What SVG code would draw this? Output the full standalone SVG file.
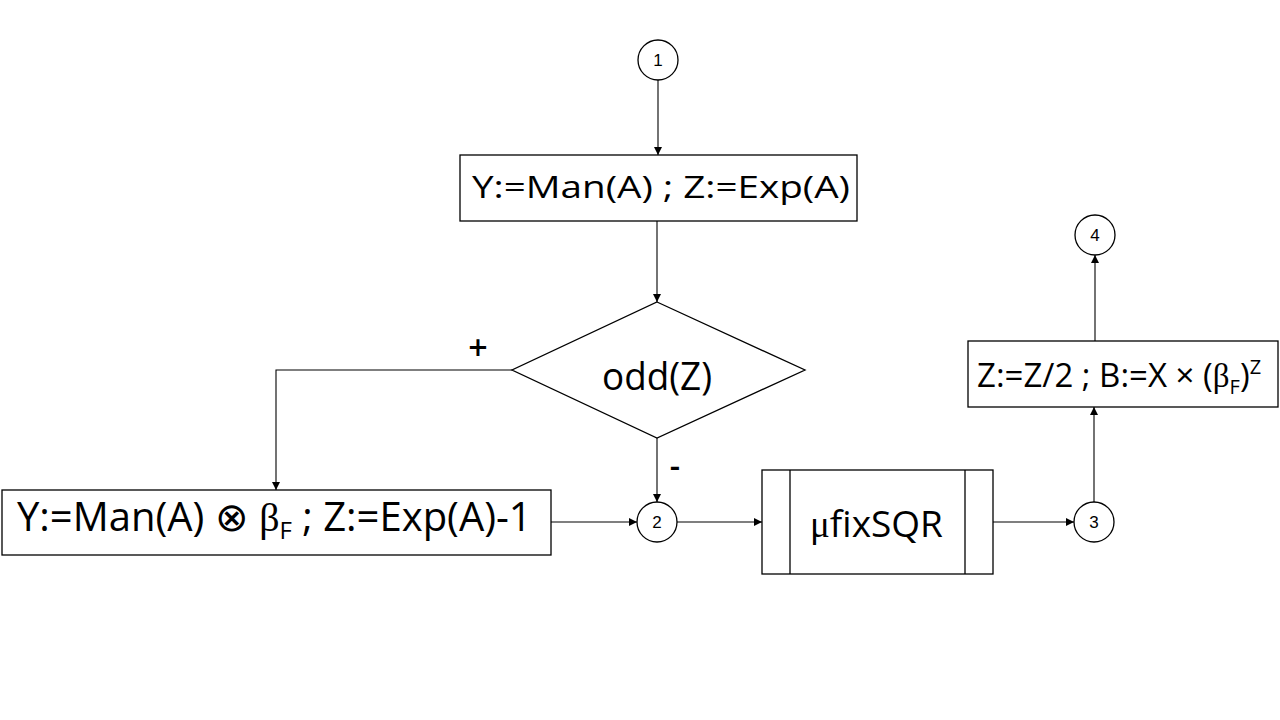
<svg xmlns="http://www.w3.org/2000/svg" width="1280" height="720" viewBox="0 0 1280 720">
<defs>
<marker id="arr" viewBox="0 0 10 10" refX="10" refY="5" markerWidth="8" markerHeight="8" markerUnits="userSpaceOnUse" orient="auto">
<path d="M0,0 L10,5 L0,10 z" fill="#000"/>
</marker>
<style>
.shape{fill:#fff;stroke:#000;stroke-width:1.3}
.conn{fill:none;stroke:#000;stroke-width:1.1;marker-end:url(#arr)}
.t{font-family:"Open Sans","Liberation Sans",sans-serif;fill:#000}
.g{font-family:"Liberation Serif","DejaVu Serif",serif}
.num{font-family:"Liberation Sans",sans-serif;font-size:17px;text-anchor:middle;fill:#000}
</style>
</defs>
<rect width="1280" height="720" fill="#fff"/>
<g id="connectors">
<path class="conn" d="M658,80 L658,155"/>
<path class="conn" d="M657,221 L657,302"/>
<path class="conn" d="M512,370 L276,370 L276,490"/>
<path class="conn" d="M657,438 L657,502"/>
<path class="conn" d="M551,522 L637,522"/>
<path class="conn" d="M677,522 L762,522"/>
<path class="conn" d="M993,522 L1074,522"/>
<path class="conn" d="M1094,502 L1094,407"/>
<path class="conn" d="M1095,341 L1095,255"/>
<text class="t" x="478" y="360" font-size="34" font-weight="600" text-anchor="middle">+</text>
<text class="t" x="675" y="477" font-size="32" font-weight="600" text-anchor="middle">-</text>
</g>
<g id="c1"><circle class="shape" cx="658" cy="60" r="20"/><text class="num" x="658" y="66">1</text></g>
<g id="c2"><circle class="shape" cx="657" cy="522" r="20"/><text class="num" x="657" y="528">2</text></g>
<g id="c3"><circle class="shape" cx="1094" cy="522" r="20"/><text class="num" x="1094" y="528">3</text></g>
<g id="c4"><circle class="shape" cx="1095" cy="235" r="20"/><text class="num" x="1095" y="241">4</text></g>
<g id="box1">
<rect class="shape" x="460" y="155" width="397" height="66"/>
<text class="t" x="472" y="198" font-size="31" textLength="378" lengthAdjust="spacingAndGlyphs">Y:=Man(A) ; Z:=Exp(A)</text>
</g>
<g id="decision">
<polygon class="shape" points="657,302 805,370 657,438 512,370"/>
<text class="t" x="602" y="390" font-size="38" textLength="110" lengthAdjust="spacingAndGlyphs">odd(Z)</text>
</g>
<g id="box2">
<rect class="shape" x="2" y="490" width="549" height="65"/>
<text class="t" x="17" y="531" font-size="40">Y:=Man(A) ⊗ <tspan class="g">β</tspan><tspan font-size="24" dy="8">F</tspan><tspan dy="-8"> ; Z:=Exp(A)-1</tspan></text>
</g>
<g id="sub">
<rect class="shape" x="762" y="470" width="231" height="104"/>
<line class="shape" x1="790" y1="470" x2="790" y2="574"/>
<line class="shape" x1="965" y1="470" x2="965" y2="574"/>
<text class="t" x="810" y="537" font-size="37"><tspan class="g">μ</tspan>fixSQR</text>
</g>
<g id="box3">
<rect class="shape" x="968" y="341" width="310" height="66"/>
<text class="t" x="977" y="387" font-size="33">Z:=Z/2 ; B:=X × (<tspan class="g">β</tspan><tspan font-size="20" dy="7">F</tspan><tspan dy="-7">)</tspan><tspan font-size="20" dy="-13">Z</tspan></text>
</g>
</svg>
